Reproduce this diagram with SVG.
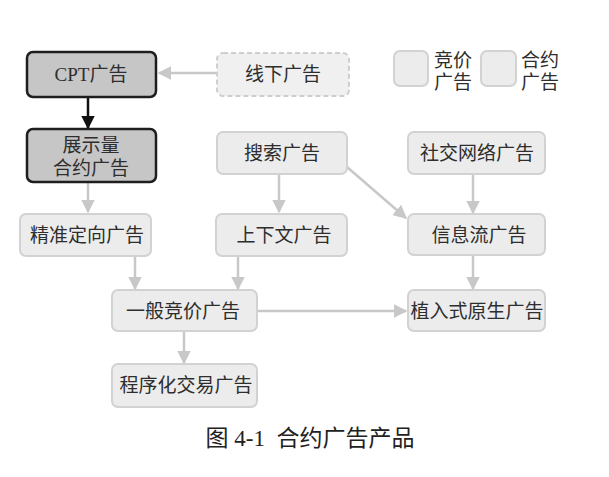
<svg xmlns="http://www.w3.org/2000/svg" width="609" height="477" viewBox="0 0 609 477">
<style>
.n{fill:#ececec;stroke:#d2d2d2;stroke-width:2}
.d{fill:#c6c6c6;stroke:#1e1e1e;stroke-width:2.5}
.dash{fill:#f0f0f0;stroke:#cfcfcf;stroke-width:2;stroke-dasharray:5 3}
text{font-family:"Liberation Serif","Noto Sans CJK SC",serif;font-size:19px;fill:#2e2e2e;text-anchor:middle}
.c{stroke:#c8c8c8;stroke-width:2.5;fill:none}
.k{stroke:#111;stroke-width:2.5;fill:none}
</style>
<defs>
<marker id="ag" viewBox="0 0 10 10" refX="9" refY="5" markerWidth="5.5" markerHeight="5.5" orient="auto" markerUnits="strokeWidth"><path d="M0,0 L10,5 L0,10 z" fill="#c8c8c8"/></marker>
<marker id="ak" viewBox="0 0 10 10" refX="9" refY="5" markerWidth="5.5" markerHeight="5.5" orient="auto" markerUnits="strokeWidth"><path d="M0,0 L10,5 L0,10 z" fill="#111"/></marker>
</defs>
<rect width="609" height="477" fill="#fff"/>
<g id="connectors">
<line class="c" x1="216" y1="73" x2="159" y2="73" marker-end="url(#ag)"/>
<line class="k" x1="88" y1="98" x2="88" y2="128" marker-end="url(#ak)"/>
<line class="c" x1="88" y1="183" x2="88" y2="212" marker-end="url(#ag)"/>
<line class="c" x1="279" y1="174" x2="279" y2="212" marker-end="url(#ag)"/>
<line class="c" x1="347" y1="167" x2="406" y2="218" marker-end="url(#ag)"/>
<line class="c" x1="473" y1="175" x2="473" y2="213" marker-end="url(#ag)"/>
<line class="c" x1="135" y1="257" x2="135" y2="289" marker-end="url(#ag)"/>
<line class="c" x1="238" y1="257" x2="238" y2="289" marker-end="url(#ag)"/>
<line class="c" x1="473" y1="256" x2="473" y2="289" marker-end="url(#ag)"/>
<line class="c" x1="258" y1="311" x2="406" y2="311" marker-end="url(#ag)"/>
<line class="c" x1="184" y1="332" x2="184" y2="363" marker-end="url(#ag)"/>
</g>
<g id="legend">
<rect class="n" x="394" y="51" width="34" height="35" rx="6"/>
<text x="453" y="67">竞价</text>
<text x="453" y="89">广告</text>
<rect class="n" x="481" y="51" width="35" height="35" rx="6"/>
<text x="540" y="67">合约</text>
<text x="540" y="89">广告</text>
</g>
<g id="cpt"><rect class="d" x="27" y="52" width="129" height="45" rx="6"/><text x="91" y="81">CPT广告</text></g>
<g id="offline"><rect class="dash" x="217" y="53" width="132" height="43" rx="6"/><text x="283" y="81">线下广告</text></g>
<g id="display"><rect class="d" x="27" y="129" width="129" height="53" rx="6"/><text x="91" y="152">展示量</text><text x="91" y="175">合约广告</text></g>
<g id="search"><rect class="n" x="217" y="132" width="130" height="42" rx="6"/><text x="282" y="160">搜索广告</text></g>
<g id="social"><rect class="n" x="408" y="132" width="137" height="42" rx="6"/><text x="477" y="160">社交网络广告</text></g>
<g id="targeting"><rect class="n" x="20" y="214" width="131" height="42" rx="6"/><text x="87" y="242">精准定向广告</text></g>
<g id="context"><rect class="n" x="216" y="214" width="131" height="42" rx="6"/><text x="284" y="242">上下文广告</text></g>
<g id="feed"><rect class="n" x="408" y="214" width="137" height="41" rx="6"/><text x="479" y="242">信息流广告</text></g>
<g id="bidding"><rect class="n" x="112" y="290" width="145" height="41" rx="6"/><text x="183" y="318">一般竞价广告</text></g>
<g id="native"><rect class="n" x="408" y="290" width="137" height="41" rx="6"/><text x="477" y="318">植入式原生广告</text></g>
<g id="programmatic"><rect class="n" x="112" y="364" width="145" height="43" rx="6"/><text x="186" y="392">程序化交易广告</text></g>
<text x="310" y="446" style="font-size:23px;fill:#222" xml:space="preserve">图 4-1  合约广告产品</text>
</svg>
